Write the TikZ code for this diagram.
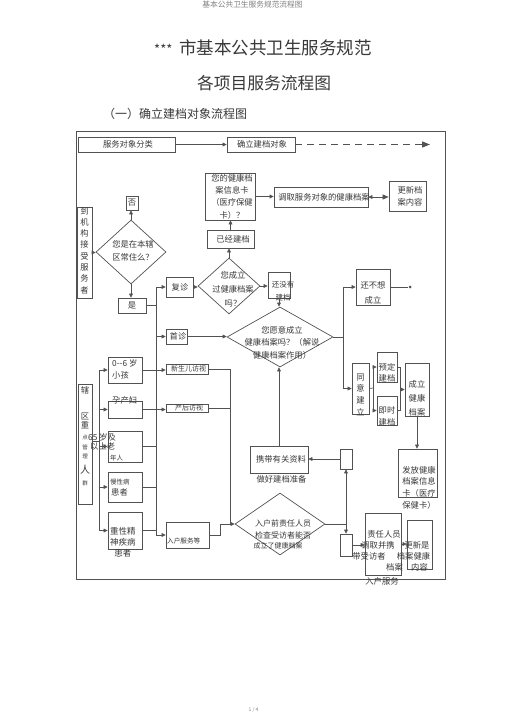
\documentclass[tikz,border=0pt]{standalone}
\usepackage{fontspec}
\setmainfont{Noto Sans CJK SC}
\usetikzlibrary{arrows.meta,shapes.geometric}
\newcommand\myfs[2]{\fontsize{#1}{#2}\selectfont}
\definecolor{linec}{gray}{0.32}
\definecolor{textc}{gray}{0.22}
\begin{document}
\begin{tikzpicture}[x=1pt,y=-1pt,
  box/.style={draw=linec,line width=0.75pt,inner sep=0pt},
  dia/.style={draw=linec,line width=0.7pt,diamond,inner sep=0pt},
  txt/.style={text=textc,inner sep=0pt,align=center,font=\myfs{8.3}{10}},
  arr/.style={draw=linec,line width=0.7pt,-{Triangle[length=4pt,width=3.8pt]}},
  ln/.style={draw=linec,line width=0.7pt},
]
\useasboundingbox (0,0) rectangle (505,714);
% titles
\node[txt,font=\myfs{7.7}{8},text=gray] (hdr) at (252.5,5) {基本公共卫生服务规范流程图};
\node[txt,anchor=west] (ti1) at (154,48) {{\myfs{13}{13}***}\hspace{7pt}{\myfs{17.5}{18}市基本公共卫生服务规范}};
\node[txt,font=\myfs{16.75}{17}] (ti2) at (264,83) {各项目服务流程图};
\node[txt,anchor=west,font=\myfs{12}{12}] (ti3) at (103,114) {（一）确立建档对象流程图};
\node[txt,font=\myfs{5}{5},text=gray] (pg) at (253.5,710) {1 / 4};
% frame
\node[box,minimum width=369pt,minimum height=448pt] (frame) at (260.5,355) {};
% boxes
\node[box,minimum width=97pt,minimum height=15pt] (fwfl) at (126.5,144.5) {};
\node[box,minimum width=68pt,minimum height=15pt] (qljd) at (261,144.5) {};
\node[box,minimum width=50pt,minimum height=47pt] (card) at (230,196.5) {};
\node[box,minimum width=94pt,minimum height=20pt] (dq) at (321,197) {};
\node[box,minimum width=37pt,minimum height=30pt] (gx) at (407.5,196) {};
\node[box,minimum width=47pt,minimum height=18pt] (yj) at (230.5,239) {};
\node[box,minimum width=27pt,minimum height=20pt] (fz) at (179.5,287) {};
\node[box,minimum width=22pt,minimum height=26pt] (mj) at (279,285) {};
\node[box,minimum width=34pt,minimum height=36pt] (bx) at (373,287) {};
\node[box,minimum width=17pt,minimum height=51pt] (ty) at (360.5,388.5) {};
\node[box,minimum width=20pt,minimum height=30pt] (yd) at (387,367) {};
\node[box,minimum width=20pt,minimum height=29pt] (js) at (387,410.5) {};
\node[box,minimum width=24pt,minimum height=53pt] (cl) at (417,389.5) {};
\node[box,minimum width=39pt,minimum height=48pt] (ff) at (417.5,473) {};
\node[box,minimum width=58pt,minimum height=27pt] (xd) at (279,459.5) {};
\node[box,minimum width=12pt,minimum height=20pt] (sb1) at (346,459) {};
\node[box,minimum width=12pt,minimum height=22pt] (sb2) at (346,545) {};
\node[box,minimum width=36pt,minimum height=62pt] (zr) at (383,544) {};
\node[box,minimum width=25pt,minimum height=49pt] (gs) at (419.5,544.5) {};
\node[box,minimum width=15pt,minimum height=91pt] (jg) at (84.5,252.5) {};
\node[box,minimum width=12pt,minimum height=14pt] (fou) at (132,203) {};
\node[box,minimum width=28pt,minimum height=15pt] (shi) at (132,305.5) {};
\node[box,minimum width=21pt,minimum height=15pt] (sz) at (176.5,336.5) {};
\node[box,minimum width=14pt,minimum height=120pt] (xq) at (85,444) {};
\node[box,minimum width=34pt,minimum height=26pt] (g1) at (125,370) {};
\node[box,minimum width=34pt,minimum height=17pt] (g2) at (125,409.5) {};
\node[box,minimum width=34pt,minimum height=31pt] (g3) at (125,446.5) {};
\node[box,minimum width=34pt,minimum height=30pt] (g4) at (125,487) {};
\node[box,minimum width=34pt,minimum height=37pt] (g5) at (125,530.5) {};
\node[box,minimum width=42pt,minimum height=10pt] (xs) at (187,369) {};
\node[box,minimum width=42pt,minimum height=8pt] (ch) at (187,408) {};
\node[box,minimum width=43pt,minimum height=26pt] (rh) at (187.5,535) {};
% diamonds
\node[dia,minimum width=70pt,minimum height=64pt] (d0) at (131,252) {};
\node[dia,minimum width=62pt,minimum height=56pt] (d1) at (229,286) {};
\node[dia,minimum width=106pt,minimum height=60pt] (d2) at (280,337) {};
\node[dia,minimum width=90pt,minimum height=62pt] (d3) at (280,524) {};
\node[circle,fill=linec,inner sep=0pt,minimum size=3pt] (dot) at (410,287) {};
% texts
\node[txt] (t1) at (128,144.5) {服务对象分类};
\node[txt] (t2) at (262,144.5) {确立建档对象};
\node[txt,font=\myfs{8.3}{12.3}] (t3) at (232,196.5) {您的健康档\\案信息卡\\（医疗保健\\卡）？};
\node[txt] (t4) at (324,197) {调取服务对象的健康档案};
\node[txt,font=\myfs{8.3}{12.5}] (t5) at (410,196.5) {更新档\\案内容};
\node[txt] (t6) at (233,239) {已经建档};
\node[txt] (t7) at (180,287) {复诊};
\node[txt,font=\myfs{7.5}{13}] (t8) at (283,291.5) {还没有\\建档};
\node[txt,font=\myfs{8.3}{13}] (t9) at (133,250.5) {您是在本辖\\区常住么？};
\node[txt,font=\myfs{8.3}{14}] (t10) at (233,289) {您成立\\过健康档案\\吗？};
\node[txt,font=\myfs{8.3}{15}] (t11) at (373,292.5) {还不想\\成立};
\node[txt,font=\myfs{8.3}{12.5}] (t12) at (282,342.5) {您愿意成立\\健康档案吗？（解说\\健康档案作用）};
\node[txt,font=\myfs{8.3}{11.7}] (t13) at (360.5,394.5) {同\\意\\建\\立};
\node[txt,font=\myfs{8.3}{11}] (t14) at (387,372.5) {预定\\建档};
\node[txt,font=\myfs{8.3}{12}] (t15) at (387,416) {即时\\建档};
\node[txt,font=\myfs{8.3}{14}] (t16) at (417,398) {成立\\健康\\档案};
\node[txt,font=\myfs{8.3}{11.7}] (t17) at (419,487.5) {发放健康\\档案信息\\卡（医疗\\保健卡）};
\node[txt] (t18) at (281,459) {携带有关资料};
\node[txt] (t19) at (281.5,479.5) {做好建档准备};
\node[txt,font=\myfs{8}{8}] (t20) at (283,523) {入户前责任人员};
\node[txt,font=\myfs{8}{8}] (t21) at (283,535) {检查受访者能否};
\node[txt,font=\myfs{7}{7}] (t22) at (278,545.5) {成立了健康档案};
\node[txt] (t23) at (384,534) {责任人员};
\node[txt] (t24) at (378,545) {调取并携};
\node[txt] (t25) at (369,556) {带受访者};
\node[txt] (t26) at (413.5,556) {档案健康};
\node[txt] (t27) at (394.5,567) {档案};
\node[txt] (t28) at (419.5,567) {内容};
\node[txt] (t29) at (382,581) {入户服务};
\node[txt] (t30) at (417,545) {更新是};
\node[txt,font=\myfs{8.3}{11.3}] (t31) at (84.5,250.5) {到\\机\\构\\接\\受\\服\\务\\者};
\node[txt] (t32) at (132,203) {否};
\node[txt] (t33) at (132,305.5) {是};
\node[txt] (t34) at (178,336.5) {首诊};
\foreach \yy/\fsz/\chr [count=\i] in {390/8.3/辖,416/8.3/区,425/8.3/重,437/5.5/点,447/5.5/管,456/5.5/理,470/10/人,483/5.5/群}
  \node[txt,font=\myfs{\fsz}{\fsz}] (xqc\i) at (85,\yy) {\chr};
\node[txt,anchor=west] (t35) at (112,363) {0-{}-6 岁};
\node[txt,anchor=west] (t36) at (112,375) {小孩};
\node[txt,anchor=west] (t37) at (112,400) {孕产妇};
\node[txt,anchor=west] (t38) at (88,437) {65 岁及};
\node[txt,anchor=west] (t39) at (90,446) {以上老};
\node[txt,anchor=west,font=\myfs{6.5}{6.5}] (t40) at (110,458) {年人};
\node[txt,anchor=west,font=\myfs{6.5}{6.5}] (t41) at (110,482) {慢性病};
\node[txt,anchor=west] (t42) at (111,492.5) {患者};
\node[txt,anchor=west,font=\myfs{8.5}{11}] (t43) at (110,542) {重性精\\神疾病\\患者};
\node[txt,font=\myfs{7}{7}] (t44) at (188.5,369) {新生儿访视};
\node[txt,font=\myfs{7}{7}] (t45) at (189,408) {产后访视};
\node[txt,anchor=west,font=\myfs{6.6}{6.6}] (t46) at (167,541) {入户服务等};
% connectors
\coordinate (dashend) at (430,144.5);
\coordinate (busx) at (156,305);
\coordinate (busL) at (99,441);
\coordinate (busR) at (343,337);
\coordinate (busT) at (373,388);
\coordinate (busC) at (400.5,388);
\coordinate (busV) at (230,524);
\coordinate (rhj) at (220,524);
\draw[arr] (fwfl.east) -- (fwfl.east -| qljd.west);
\draw[draw=linec,line width=1.1pt,dash pattern=on 7pt off 5pt,-{Triangle[length=8pt,width=6pt]}] (qljd.east) -- (dashend);
\draw[arr] (card.east) -- (card.east -| dq.west);
\draw[draw=linec,line width=0.7pt,{Triangle[length=4pt,width=3.8pt]}-{Triangle[length=6pt,width=5pt]}] (dq.east) -- (dq.east -| gx.west);
\draw[arr] (yj.north) -- (yj.north |- card.south);
\draw[arr] (d1.north) -- (d1.north |- yj.south);
\draw[arr] (fz.east) -- (fz.east -| d1.west);
\draw[arr] (d1.east) -- (d1.east -| mj.west);
\draw[arr] (mj.south) -- (mj.south |- d2.north);
\draw[arr] (d0.north) -- (d0.north |- fou.south);
\draw[arr] (d0.south) -- (d0.south |- shi.north);
\draw[arr] (jg.east) -- (jg.east -| d0.west);
% left bus (是)
\draw[ln] (shi.east) -- (shi.east -| busx);
\draw[ln] (busx |- fz.west) -- (busx |- rh.west);
\draw[arr] (busx |- fz.west) -- (fz.west);
\draw[arr] (busx |- sz.west) -- (sz.west);
\draw[arr] (busx |- rh.west) -- (rh.west);
\draw[ln] (g3.east) -- (g3.east -| busx);
\draw[ln] (g4.east) -- (g4.east -| busx);
\draw[ln] (g5.east) -- (g5.east -| busx);
\draw[arr] (g1.east) -- (g1.east -| xs.west);
\draw[arr] (g2.east) -- (g2.east -| ch.west);
% group bus
\draw[ln] (xq.east |- busL) -- (busL);
\draw[ln] (busL |- g1.west) -- (busL |- g5.west);
\foreach \g in {g1,g2,g3,g4,g5} \draw[arr] (busL |- \g.west) -- (\g.west);
% first visit
\draw[arr] (sz.east) -- (sz.east -| d2.west);
\draw[ln] (d2.east) -- (busR);
\draw[ln] (busR |- bx.west) -- (busR |- ty.west);
\draw[arr] (busR |- bx.west) -- (bx.west);
\draw[arr] (busR |- ty.west) -- (ty.west);
\draw[ln] (bx.east) -- (dot);
\draw[ln] (ty.east) -- (busT);
\draw[ln] (busT |- yd.west) -- (busT |- js.west);
\draw[arr] (busT |- yd.west) -- (yd.west);
\draw[arr] (busT |- js.west) -- (js.west);
\draw[ln] (yd.east) -- (busC |- yd.east) -- (busC |- js.east) -- (js.east);
\draw[arr] (busC |- cl.west) -- (cl.west);
\draw[arr] (cl.south) -- (cl.south |- ff.north);
\draw[arr] (xd.north) -- (xd.north |- d2.south);
\draw[arr] (sb1.west) -- (sb1.west -| xd.east);
% home visit
\draw[ln] (xs.east) -- (busV |- xs.east);
\draw[ln] (ch.east) -- (busV |- ch.east);
\draw[ln] (busV |- xs.east) -- (busV);
\draw[ln] (rh.east) -- (rh.east -| rhj) -- (rhj) -- (busV);
\draw[arr] (busV) -- (d3.west);
\draw[ln] (d3.east) -- (d3.east -| sb1.south);
\draw[arr] (d3.east -| sb1.south) -- (sb1.south);
\draw[arr] (d3.east -| sb2.north) -- (sb2.north);
\draw[arr] (sb2.east) -- (sb2.east -| zr.west);
\draw[arr] (zr.east) -- (zr.east -| gs.west);
\end{tikzpicture}
\end{document}
